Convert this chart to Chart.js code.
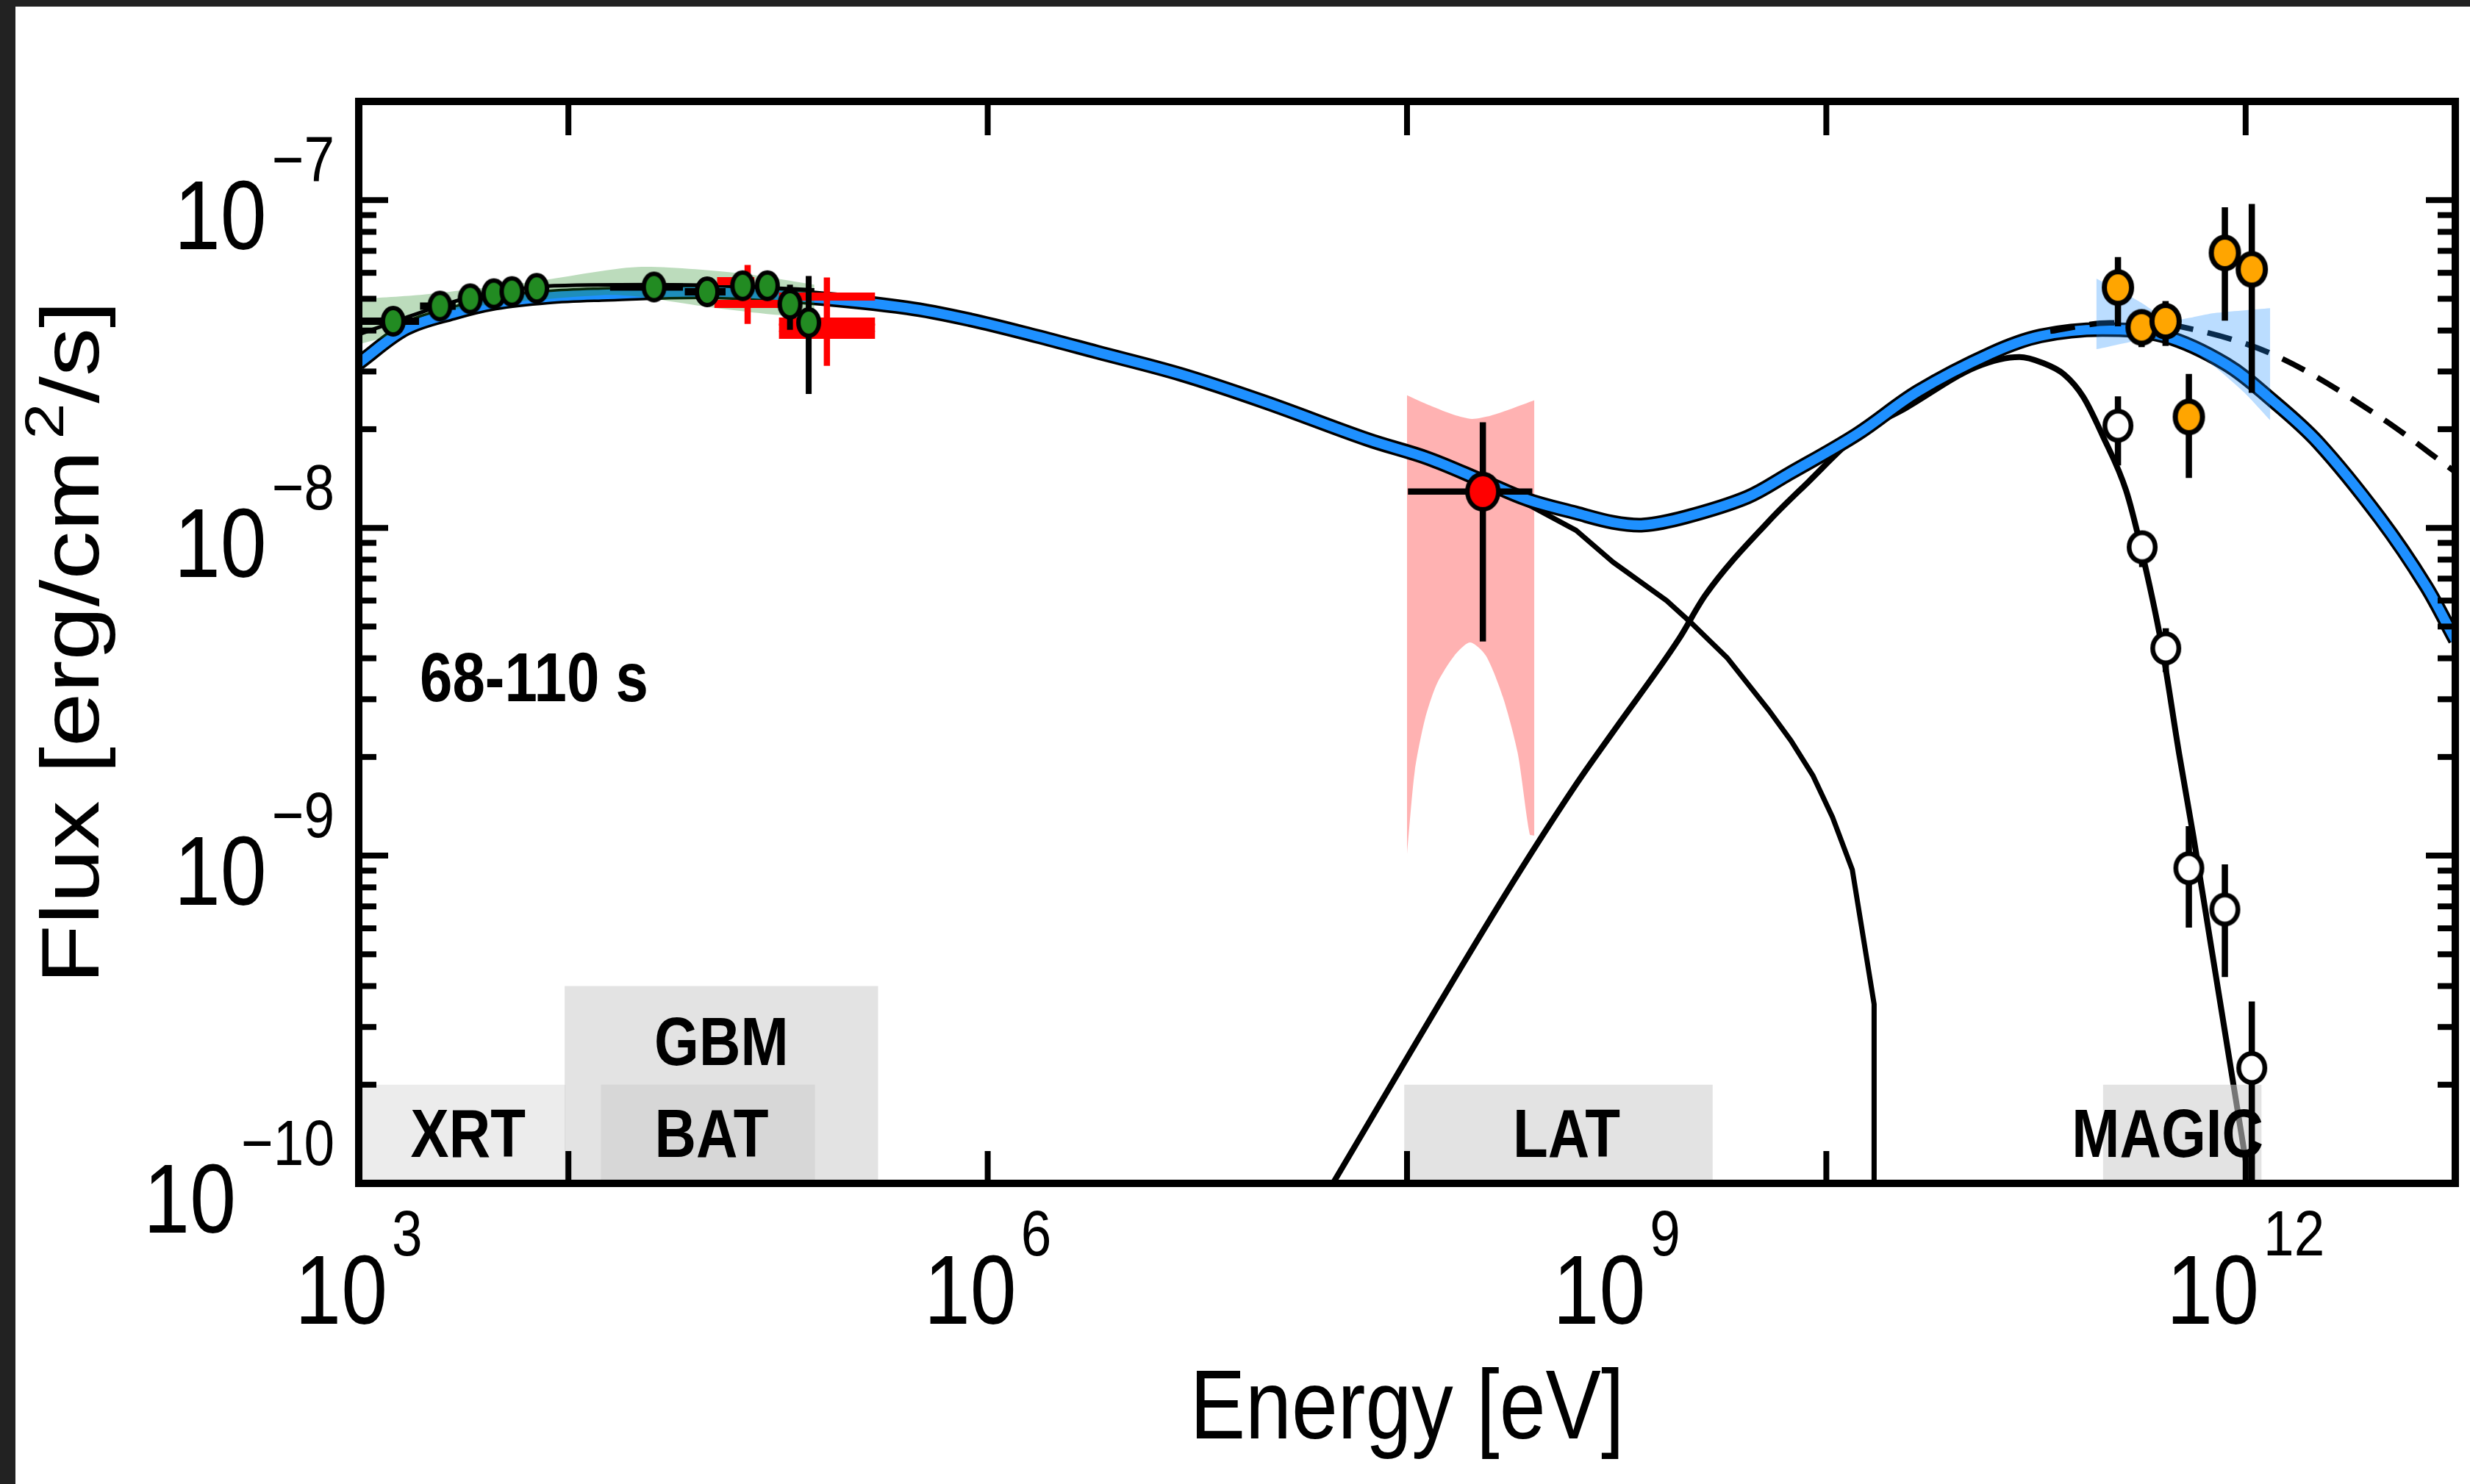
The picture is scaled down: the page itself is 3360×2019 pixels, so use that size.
<!DOCTYPE html>
<html>
<head>
<meta charset="utf-8">
<title>SED 68-110 s</title>
<script src="https://cdn.jsdelivr.net/npm/chart.js@4.4.0/dist/chart.umd.min.js"></script>
<style>
html,body{margin:0;padding:0;background:#ffffff;overflow:hidden;}
#wrap{width:3360px;height:2019px;position:relative;}
canvas{display:block;}
</style>
</head>
<body>
<div id="wrap"><canvas id="sed" width="3360" height="2019"></canvas></div>
<script>
// ======================= DATA (energy in eV, flux in erg/cm^2/s) =======================
// total model (blue)
const totalE = [1.00e3, 1.68e3, 2.82e3, 4.47e3, 7.94e3, 1.44e4, 4.63e4, 1.37e5, 4.14e5, 8.28e5, 1.70e6, 3.31e6, 8.34e6, 2.10e7, 6.49e7, 1.26e8, 2.30e8, 3.74e8, 6.41e8, 9.59e8, 1.34e9, 2.14e9, 4.19e9, 6.61e9, 1.40e10, 2.74e10, 6.12e10, 1.05e11, 2.07e11, 4.08e11, 8.05e11, 1.34e12, 2.22e12, 4.37e12, 7.24e12, 1.00e13];
const totalF = [3.18e-8, 4.05e-8, 4.52e-8, 4.85e-8, 5.06e-8, 5.15e-8, 5.25e-8, 5.05e-8, 4.69e-8, 4.31e-8, 3.85e-8, 3.44e-8, 2.94e-8, 2.42e-8, 1.86e-8, 1.63e-8, 1.39e-8, 1.22e-8, 1.11e-8, 1.04e-8, 1.02e-8, 1.08e-8, 1.24e-8, 1.46e-8, 1.93e-8, 2.61e-8, 3.41e-8, 3.85e-8, 4.03e-8, 3.85e-8, 3.16e-8, 2.45e-8, 1.82e-8, 1.07e-8, 6.65e-9, 4.55e-9];
// synchrotron component (black)
const syncE = [1.00e3, 1.68e3, 2.82e3, 4.47e3, 7.94e3, 1.44e4, 4.63e4, 1.37e5, 4.14e5, 8.28e5, 1.70e6, 3.31e6, 8.34e6, 2.10e7, 6.49e7, 1.26e8, 2.30e8, 3.95e8, 6.41e8, 9.59e8, 1.73e9, 2.26e9, 3.38e9, 5.33e9, 6.79e9, 8.65e9, 1.07e10, 1.33e10, 1.69e10, 1.69e10];
const syncF = [3.18e-8, 4.05e-8, 4.52e-8, 4.85e-8, 5.06e-8, 5.15e-8, 5.25e-8, 5.05e-8, 4.69e-8, 4.31e-8, 3.85e-8, 3.44e-8, 2.94e-8, 2.42e-8, 1.86e-8, 1.63e-8, 1.35e-8, 1.16e-8, 9.82e-9, 7.87e-9, 6.00e-9, 5.14e-9, 4.00e-9, 2.77e-9, 2.24e-9, 1.75e-9, 1.31e-9, 9.06e-10, 3.52e-10, 5.0e-11];
// SSC component, EBL absorbed (black)
const icE = [3.98e7, 2.87e8, 6.41e8, 9.59e8, 1.98e9, 2.65e9, 5.33e9, 8.20e9, 1.40e10, 2.39e10, 5.22e10, 8.34e10, 1.07e11, 1.36e11, 1.68e11, 2.08e11, 2.69e11, 3.15e11, 3.97e11, 4.82e11, 5.64e11, 6.85e11, 8.32e11, 9.73e11, 1.05e12];
const icF = [8.91e-11, 7.41e-10, 1.65e-9, 2.38e-9, 4.58e-9, 6.24e-9, 1.05e-8, 1.38e-8, 1.91e-8, 2.32e-8, 3.10e-8, 3.32e-8, 3.19e-8, 2.94e-8, 2.51e-8, 1.91e-8, 1.30e-8, 8.83e-9, 4.41e-9, 2.04e-9, 1.14e-9, 5.27e-10, 2.44e-10, 1.31e-10, 9.64e-11];
// intrinsic (dashed)
const dashE = [1.17e11, 2.24e11, 3.98e11, 4.84e11, 1.34e12, 4.37e12, 1.00e13];
const dashF = [3.98e-8, 4.22e-8, 4.19e-8, 4.12e-8, 3.39e-8, 2.18e-8, 1.48e-8];
// XRT-BAT-GBM best fit line and band
const fitE = [1.00e3, 1.68e3, 2.44e3, 3.40e3, 5.37e3, 7.66e3, 2.56e4, 6.15e4, 1.49e5];
const fitF = [3.89e-8, 4.38e-8, 4.75e-8, 5.06e-8, 5.32e-8, 5.46e-8, 5.52e-8, 5.46e-8, 5.32e-8];
const xBandUpE = [1.00e3, 2.04e3, 6.61e3, 2.14e4, 6.76e4, 1.49e5];
const xBandUpF = [4.99e-8, 5.15e-8, 5.62e-8, 6.25e-8, 5.97e-8, 5.52e-8];
const xBandLoE = [1.00e3, 1.38e3, 2.04e3, 4.47e3, 1.45e4, 2.14e4, 4.65e4, 1.01e5, 1.49e5];
const xBandLoF = [3.63e-8, 3.85e-8, 4.42e-8, 4.82e-8, 5.13e-8, 5.08e-8, 4.72e-8, 4.46e-8, 4.42e-8];
// LAT butterfly
const latUpE = [1.00e8, 1.29e8, 1.68e8, 2.04e8, 2.51e8, 3.16e8, 4.05e8];
const latUpF = [2.54e-8, 2.36e-8, 2.21e-8, 2.15e-8, 2.20e-8, 2.31e-8, 2.45e-8];
const latLoE = [1.00e8, 1.09e8, 1.22e8, 1.39e8, 1.68e8, 2.00e8, 2.38e8, 2.87e8, 3.37e8, 3.85e8, 4.05e8];
const latLoF = [1.01e-9, 1.82e-9, 2.62e-9, 3.35e-9, 4.07e-9, 4.47e-9, 4.07e-9, 3.04e-9, 2.06e-9, 1.16e-9, 1.15e-9];
// MAGIC butterfly
const magicUpE = [1.94e11, 3.12e11, 4.38e11, 7.08e11, 1.31e12];
const magicUpF = [5.76e-8, 4.90e-8, 4.32e-8, 4.52e-8, 4.68e-8];
const magicLoE = [1.94e11, 3.57e11, 5.73e11, 9.53e11, 1.31e12];
const magicLoF = [3.51e-8, 3.76e-8, 3.43e-8, 2.64e-8, 2.13e-8];
// XRT / BAT / GBM points (green)
const greenE   = [1.46e3, 2.44e3, 3.40e3, 4.41e3, 5.38e3, 7.06e3, 2.56e4, 4.59e4, 6.78e4, 8.89e4, 1.14e5, 1.40e5];
const greenF   = [4.27e-8, 4.75e-8, 5.00e-8, 5.18e-8, 5.26e-8, 5.38e-8, 5.43e-8, 5.25e-8, 5.48e-8, 5.48e-8, 4.81e-8, 4.23e-8];
const greenElo = [1.02e3, 1.96e3, null, null, null, null, 1.58e4, 3.59e4, null, null, null, null];
const greenEhi = [1.94e3, 2.90e3, null, null, null, null, 3.52e4, 5.62e4, null, null, null, null];
const greenFlo = [null, null, null, null, null, null, null, null, null, null, 4.02e-8, 2.56e-8];
const greenFhi = [null, null, null, null, null, null, null, null, null, null, 5.52e-8, 5.87e-8];
// GBM spectral points (red crosses)
const gbmHbarElo = [5.12e4, 4.97e4, 1.01e5, 1.01e5, 1.01e5, 1.01e5];
const gbmHbarEhi = [7.71e4, 1.01e5, 2.90e5, 2.90e5, 2.90e5, 2.90e5];
const gbmHbarF   = [5.66e-8, 4.82e-8, 5.08e-8, 4.26e-8, 4.08e-8, 3.88e-8];
const gbmVbarE   = [7.16e4, 1.71e5];
const gbmVbarFlo = [4.19e-8, 3.12e-8];
const gbmVbarFhi = [6.34e-8, 5.81e-8];
// LAT point
const latE = [2.30e8], latF = [1.29e-8], latElo = [1.01e8], latEhi = [3.96e8], latFlo = [4.50e-9], latFhi = [2.10e-8];
// MAGIC intrinsic (orange) and observed (white)
const magicE   = [2.46e11, 3.19e11, 4.15e11, 5.36e11, 7.96e11, 1.07e12];
const magicF   = [5.41e-8, 4.09e-8, 4.27e-8, 2.18e-8, 6.90e-8, 6.15e-8];
const magicFlo = [4.12e-8, 3.56e-8, 3.59e-8, 1.42e-8, 4.29e-8, 2.58e-8];
const magicFhi = [6.70e-8, 4.62e-8, 4.92e-8, 2.95e-8, 9.51e-8, 9.73e-8];
const obsE   = [2.46e11, 3.21e11, 4.16e11, 5.36e11, 7.96e11, 1.07e12];
const obsF   = [2.05e-8, 8.73e-9, 4.29e-9, 9.16e-10, 6.85e-10, 2.25e-10];
const obsFlo = [1.55e-8, 7.59e-9, 3.63e-9, 6.03e-10, 4.26e-10, 5.0e-11];
const obsFhi = [2.52e-8, 9.77e-9, 4.94e-9, 1.23e-9, 9.40e-10, 3.59e-10];
// instrument energy ranges
const bandName = ['XRT', 'GBM', 'BAT', 'LAT', 'MAGIC'];
const bandElo  = [1.00e3, 9.6e3, 1.43e4, 9.7e7, 2.09e11];
const bandEhi  = [9.7e3, 3.0e5, 1.50e5, 2.87e9, 1.19e12];
const bandFtop = [2.0e-10, 4.0e-10, 2.0e-10, 2.0e-10, 2.0e-10];
// axes
const xLabelExp = [3, 6, 9, 12];
const yLabelExp = [-7, -8, -9, -10];
const xTickExp  = [4, 6, 8, 10, 12];
const periodLabel = '68-110 s';

// ======================= STYLE =======================
const SX = 0.85;
const FAM = "'Liberation Sans', Arial, Helvetica, sans-serif";
const COL = { blue: '#1E90FF', green: '#228B22', orange: '#FFA500', red: '#FF0000', frame: '#222222' };
const BOX = 'rgba(206,206,206,0.57)', BOX_LIGHT = 'rgba(206,206,206,0.39)';
const LABEL_DX = [8, 0, 5, 11, -20];

const P = (E, F) => E.map((e, i) => ({ x: e, y: F[i] }));

function ellipseImg(rx, ry, fill, lw) {
  const c = document.createElement('canvas');
  const w = Math.ceil(2 * rx + 2), h = Math.ceil(2 * ry + 2);
  c.width = w; c.height = h;
  const g = c.getContext('2d');
  g.beginPath();
  g.ellipse(w / 2, h / 2, rx - lw / 2, ry - lw / 2, 0, 0, 2 * Math.PI);
  g.fillStyle = fill; g.fill();
  g.lineWidth = lw; g.strokeStyle = '#000'; g.stroke();
  return c;
}
const imgGreen = ellipseImg(17, 21, COL.green, 6);
const imgOrange = ellipseImg(22, 25, COL.orange, 7);
const imgWhite = ellipseImg(21, 23, '#ffffff', 6.5);
const imgRed = ellipseImg(24, 27, COL.red, 6);

function curve(label, E, F, color, width, order, extra) {
  return Object.assign({
    label, data: P(E, F), borderColor: color, borderWidth: width, pointRadius: 0,
    tension: 0, fill: false, order, borderJoinStyle: 'round', borderCapStyle: 'butt'
  }, extra || {});
}
function band(label, upE, upF, loE, loF, color, order) {
  return [
    { label: label + ' upper', data: P(upE, upF), borderColor: 'rgba(0,0,0,0)', borderWidth: 0,
      backgroundColor: color, fill: '+1', pointRadius: 0, tension: 0.25, order },
    { label: label + ' lower', data: P(loE, loF), borderColor: 'rgba(0,0,0,0)', borderWidth: 0,
      fill: false, pointRadius: 0, tension: 0.25, order }
  ];
}
function markers(label, E, F, img, order) {
  return { label, data: P(E, F), showLine: false, borderWidth: 0, borderColor: 'rgba(0,0,0,0)',
    pointStyle: img, pointRadius: 20, order };
}
const SMOOTH = { cubicInterpolationMode: 'monotone' };

const datasets = [
  ...band('LAT band', latUpE, latUpF, latLoE, latLoF, 'rgba(255,0,0,0.3)', 100),
  curve('Synchrotron', syncE, syncF, '#000000', 7, 90),
  curve('SSC (EBL absorbed)', icE, icF, '#000000', 8, 89, SMOOTH),
  curve('Total outline', totalE, totalF, '#000000', 20, 80, { tension: 0.35 }),
  curve('Total', totalE, totalF, COL.blue, 13, 79, { tension: 0.35 }),
  curve('SSC intrinsic', dashE, dashF, '#000000', 7.5, 70, { borderDash: [34, 20], cubicInterpolationMode: 'monotone' }),
  ...band('XRT-BAT-GBM band', xBandUpE, xBandUpF, xBandLoE, xBandLoF, 'rgba(34,139,34,0.3)', 60),
  ...band('MAGIC band', magicUpE, magicUpF, magicLoE, magicLoF, 'rgba(30,144,255,0.3)', 55),
  curve('XRT-BAT-GBM fit', fitE, fitF, '#000000', 5, 50, SMOOTH),
  markers('LAT', latE, latF, imgRed, 4),
  markers('XRT/BAT/GBM', greenE, greenF, imgGreen, 3),
  markers('MAGIC intrinsic', magicE, magicF, imgOrange, 2),
  markers('MAGIC observed', obsE, obsF, imgWhite, 1)
];

// ======================= DRAW HELPERS =======================
function text(ctx, s, x, y, font, align) {
  ctx.save();
  ctx.font = font; ctx.textAlign = align; ctx.textBaseline = 'alphabetic'; ctx.fillStyle = '#000';
  ctx.translate(x, y); ctx.scale(SX, 1); ctx.fillText(s, 0, 0);
  ctx.restore();
}
function tw(ctx, s, font) {
  ctx.save(); ctx.font = font; const w = ctx.measureText(s).width * SX; ctx.restore(); return w;
}
function seg(ctx, x0, y0, x1, y1) {
  ctx.beginPath(); ctx.moveTo(x0, y0); ctx.lineTo(x1, y1); ctx.stroke();
}

function drawBoxes(chart) {
  const { ctx, chartArea: a } = chart;
  const X = v => chart.scales.x.getPixelForValue(v), Y = v => chart.scales.y.getPixelForValue(v);
  ctx.save();
  bandName.forEach((n, i) => {
    const x0 = X(bandElo[i]), x1 = X(bandEhi[i]), y0 = Y(bandFtop[i]);
    ctx.fillStyle = i === 0 ? BOX_LIGHT : BOX;
    ctx.fillRect(x0, y0, x1 - x0, a.bottom - y0);
  });
  const f = 'bold 92px ' + FAM;
  bandName.forEach((n, i) => {
    const cx = X(Math.sqrt(bandElo[i] * bandEhi[i])) + LABEL_DX[i];
    const by = n === 'GBM' ? (Y(bandFtop[1]) + Y(bandFtop[2])) / 2 + 40 : a.bottom - 36;
    text(ctx, n, cx, by, f, 'center');
  });
  ctx.restore();
}

function drawErrorBars(chart) {
  const { ctx, chartArea: a } = chart;
  const X = v => chart.scales.x.getPixelForValue(v), Y = v => chart.scales.y.getPixelForValue(v);
  ctx.save();
  ctx.beginPath(); ctx.rect(a.left, a.top, a.right - a.left, a.bottom - a.top); ctx.clip();
  ctx.lineCap = 'butt';
  ctx.strokeStyle = COL.red; ctx.lineWidth = 11;
  gbmHbarF.forEach((f, i) => seg(ctx, X(gbmHbarElo[i]), Y(f), X(gbmHbarEhi[i]), Y(f)));
  ctx.lineWidth = 8.5;
  gbmVbarE.forEach((e, i) => seg(ctx, X(e), Y(gbmVbarFlo[i]), X(e), Y(gbmVbarFhi[i])));
  ctx.strokeStyle = '#000';
  greenE.forEach((e, i) => {
    ctx.lineWidth = 10;
    if (greenElo[i] != null) seg(ctx, X(greenElo[i]), Y(greenF[i]), X(greenEhi[i]), Y(greenF[i]));
    ctx.lineWidth = 8;
    if (greenFlo[i] != null) seg(ctx, X(e), Y(greenFlo[i]), X(e), Y(greenFhi[i]));
  });
  ctx.lineWidth = 8.5;
  latE.forEach((e, i) => {
    seg(ctx, X(latElo[i]), Y(latF[i]), X(latEhi[i]), Y(latF[i]));
    seg(ctx, X(e), Y(latFlo[i]), X(e), Y(latFhi[i]));
  });
  magicE.forEach((e, i) => seg(ctx, X(e), Y(magicFlo[i]), X(e), Y(magicFhi[i])));
  obsE.forEach((e, i) => seg(ctx, X(e), Y(obsFlo[i]), X(e), Y(obsFhi[i])));
  ctx.restore();
}

function drawAxes(chart) {
  const { ctx, chartArea: a } = chart;
  const X = v => chart.scales.x.getPixelForValue(v), Y = v => chart.scales.y.getPixelForValue(v);
  ctx.save();
  ctx.strokeStyle = '#000'; ctx.lineCap = 'butt'; ctx.lineWidth = 8;
  xTickExp.forEach(n => {
    const px = X(Math.pow(10, n));
    seg(ctx, px, a.bottom, px, a.bottom - 44);
    seg(ctx, px, a.top, px, a.top + 46);
  });
  const yMin = chart.scales.y.min, yMax = chart.scales.y.max;
  for (let n = -10; n <= -7; n++) {
    for (let k = 1; k <= 9; k++) {
      const v = k * Math.pow(10, n);
      if (v <= yMin * 1.0001 || v >= yMax * 0.9999) continue;
      const py = Y(v), L = k === 1 ? 40 : 24;
      seg(ctx, a.left, py, a.left + L, py);
      seg(ctx, a.right, py, a.right - L, py);
    }
  }
  ctx.lineWidth = 10;
  ctx.strokeRect(a.left, a.top, a.right - a.left, a.bottom - a.top);

  const fM = '133px ' + FAM, fS = '88px ' + FAM;
  yLabelExp.forEach(n => {
    const py = Y(Math.pow(10, n));
    const sup = '\u2212' + Math.abs(n);
    const ws = tw(ctx, sup, fS);
    text(ctx, sup, a.left - 33, py - 25, fS, 'right');
    text(ctx, '10', a.left - 33 - ws - 7, py + 67, fM, 'right');
  });
  xLabelExp.forEach(n => {
    const px = X(Math.pow(10, n));
    const sup = String(n);
    const wm = tw(ctx, '10', fM), ws = tw(ctx, sup, fS), gap = 6;
    const x0 = px - (wm + gap + ws) / 2;
    text(ctx, '10', x0, a.bottom + 191, fM, 'left');
    text(ctx, sup, x0 + wm + gap, a.bottom + 98, fS, 'left');
  });
  // axis titles
  text(ctx, 'Energy [eV]', (a.left + a.right) / 2, a.bottom + 347, '133px ' + FAM, 'center');
  const fT = '132px ' + FAM, fTs = '88px ' + FAM;
  ctx.save();
  ctx.translate(134, (a.top + a.bottom) / 2);
  ctx.scale(SX, 1);
  ctx.rotate(-Math.PI / 2);
  ctx.fillStyle = '#000'; ctx.textAlign = 'left'; ctx.textBaseline = 'alphabetic';
  ctx.font = fT;
  const w1 = ctx.measureText('Flux [erg/cm').width, w3 = ctx.measureText('/s]').width;
  ctx.font = fTs;
  const w2 = ctx.measureText('2').width;
  const g1 = 15, total = w1 + g1 + w2 + w3;
  let u = -total / 2;
  ctx.font = fT; ctx.fillText('Flux [erg/cm', u, 0); u += w1 + g1;
  ctx.font = fTs; ctx.fillText('2', u, -56); u += w2;
  ctx.font = fT; ctx.fillText('/s]', u, 0);
  ctx.restore();
  // period label
  text(ctx, periodLabel, a.left + 83, 954, 'bold 94px ' + FAM, 'left');
  ctx.restore();
}

const sedPlugin = {
  id: 'sedDecor',
  beforeDraw(chart) {
    const ctx = chart.ctx;
    ctx.save();
    ctx.fillStyle = '#ffffff'; ctx.fillRect(0, 0, chart.width, chart.height);
    ctx.fillStyle = COL.frame;
    ctx.fillRect(0, 0, chart.width, 9);
    ctx.fillRect(0, 0, 21, chart.height);
    ctx.restore();
  },
  beforeDatasetDraw(chart, args) {
    if (chart.data.datasets[args.index].label !== 'LAT') return;
    drawBoxes(chart);
    drawErrorBars(chart);
  },
  afterDraw(chart) { drawAxes(chart); }
};

new Chart(document.getElementById('sed'), {
  type: 'line',
  data: { datasets },
  options: {
    responsive: false,
    animation: false,
    devicePixelRatio: 1,
    events: [],
    layout: { padding: { left: 488, right: 7, top: 138, bottom: 409 } },
    plugins: { legend: { display: false }, tooltip: { enabled: false }, title: { display: false } },
    scales: {
      x: { type: 'logarithmic', min: 1e3, max: 1e13, display: false, bounds: 'data' },
      y: { type: 'logarithmic', min: 1e-10, max: 2e-7, display: false, bounds: 'data' }
    }
  },
  plugins: [sedPlugin]
});
</script>
</body>
</html>
